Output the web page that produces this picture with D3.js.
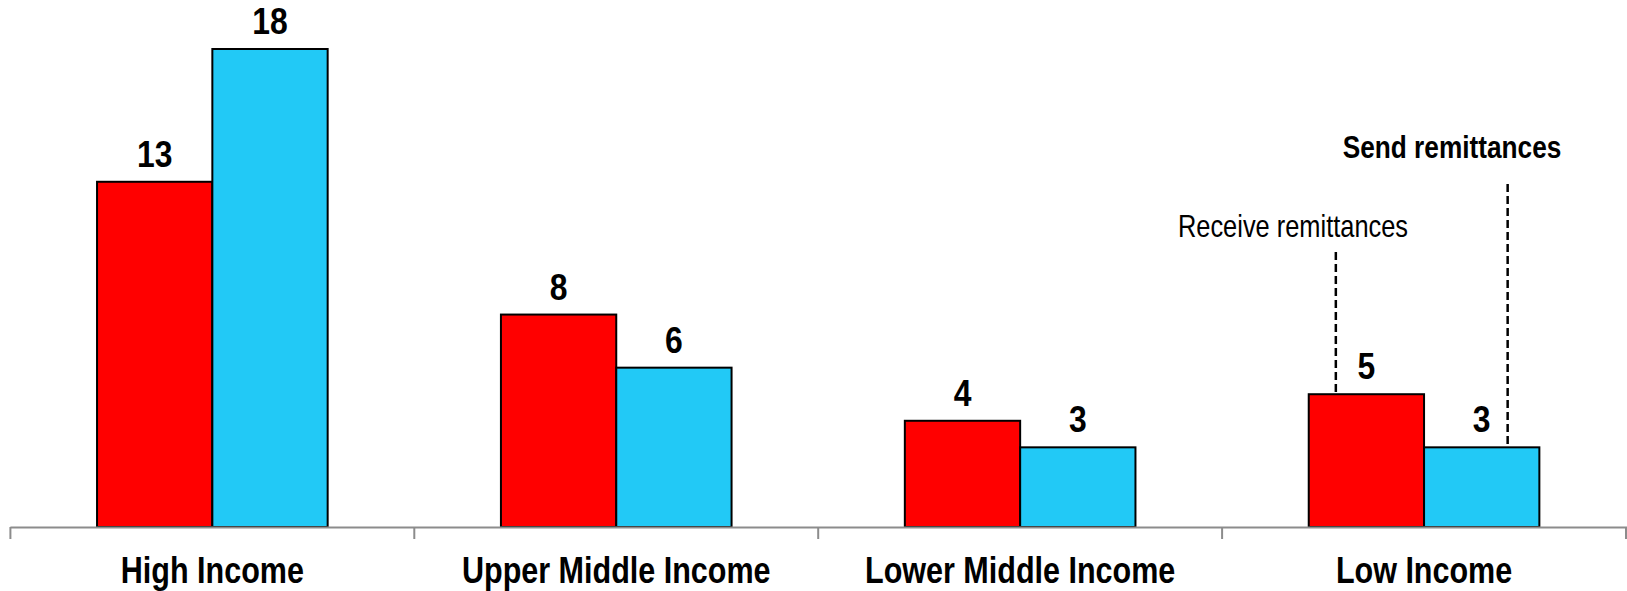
<!DOCTYPE html>
<html>
<head>
<meta charset="utf-8">
<script src="https://cdn.jsdelivr.net/npm/d3@7"></script>
<style>
  html, body { margin: 0; padding: 0; background: #fff; }
  svg { display: block; }
  text { font-family: "Liberation Sans", Arial, Helvetica, sans-serif; fill: #000; }
</style>
</head>
<body>
<svg id="chart" width="1627" height="591"></svg>
<script>
// Income groups and the two series (per cent)
const categories = ["High Income", "Upper Middle Income", "Lower Middle Income", "Low Income"];
const seriesNames = ["Receive remittances", "Send remittances"];
const receiveValues = [13, 8, 4, 5];
const sendValues = [18, 6, 3, 3];
const seriesColors = ["#FF0000", "#22C9F6"];

const W = 1627, H = 591;
const svg = d3.select("#chart");

const x = d3.scaleBand().domain(categories).range([10.4, 1626]).padding(0);
const groupFrac = 0.571;
const xInner = d3.scaleBand().domain(seriesNames)
  .range([0, x.bandwidth() * groupFrac]).padding(0);
const y = d3.scaleLinear().domain([0, 18]).range([527, 49]);

const rows = categories.map((c, i) => ({
  cat: c,
  vals: [
    { s: seriesNames[0], v: receiveValues[i] },
    { s: seriesNames[1], v: sendValues[i] }
  ]
}));

const groupX = c => x(c) + x.bandwidth() * (1 - groupFrac) / 2;

// text placed at (tx, ty) and condensed horizontally by sx (narrow face)
function label(sel, tx, ty, sx) {
  return sel.attr("transform", (d, i) =>
    `translate(${typeof tx === "function" ? tx(d, i) : tx},${typeof ty === "function" ? ty(d, i) : ty}) scale(${sx},1)`);
}

// bars
const groups = svg.selectAll("g.grp").data(rows).join("g")
  .attr("class", "grp")
  .attr("transform", d => `translate(${groupX(d.cat)},0)`);

groups.selectAll("rect").data(d => d.vals).join("rect")
  .attr("x", d => xInner(d.s))
  .attr("y", d => y(d.v))
  .attr("width", xInner.bandwidth())
  .attr("height", d => y(0) - y(d.v))
  .attr("fill", (d, i) => seriesColors[i])
  .attr("stroke", "#000")
  .attr("stroke-width", 2);

// value labels
label(groups.selectAll("text.val").data(d => d.vals).join("text")
  .attr("class", "val")
  .attr("text-anchor", "middle")
  .attr("font-weight", "bold")
  .attr("font-size", 37.5)
  .text(d => d.v),
  d => xInner(d.s) + xInner.bandwidth() / 2,
  d => y(d.v) - 15, 0.85);

// category axis
const axisG = svg.append("g");
axisG.append("line")
  .attr("x1", 10.4).attr("x2", W)
  .attr("y1", y(0) + 0.5).attr("y2", y(0) + 0.5)
  .attr("stroke", "#8c8c8c").attr("stroke-width", 2);
const boundaries = categories.map(c => x(c)).concat([x(categories[categories.length - 1]) + x.bandwidth()]);
axisG.selectAll("line.tick").data(boundaries).join("line")
  .attr("class", "tick")
  .attr("x1", d => Math.min(d, W - 1)).attr("x2", d => Math.min(d, W - 1))
  .attr("y1", y(0)).attr("y2", y(0) + 12)
  .attr("stroke", "#8c8c8c").attr("stroke-width", 2);
label(axisG.selectAll("text.cat").data(categories).join("text")
  .attr("class", "cat")
  .attr("text-anchor", "middle")
  .attr("font-weight", "bold")
  .attr("font-size", 37)
  .text(d => d),
  d => x(d) + x.bandwidth() / 2, 582.5, 0.825);

// series callouts on the last group
const last = categories[categories.length - 1];
const callouts = [
  { s: seriesNames[0], v: receiveValues[3], frac: 0.235, top: 252, tx: 1293, ty: 237, bold: false, size: 31, sx: 0.82 },
  { s: seriesNames[1], v: sendValues[3], frac: 0.725, top: 184, tx: 1452, ty: 158, bold: true, size: 32, sx: 0.82 }
];
callouts.forEach(c => {
  const lx = groupX(last) + xInner(c.s) + xInner.bandwidth() * c.frac;
  svg.append("line")
    .attr("x1", lx).attr("x2", lx)
    .attr("y1", c.top).attr("y2", y(c.v))
    .attr("stroke", "#000").attr("stroke-width", 2.5)
    .attr("stroke-dasharray", "8,4");
  label(svg.append("text")
    .attr("text-anchor", "middle")
    .attr("font-weight", c.bold ? "bold" : "normal")
    .attr("font-size", c.size)
    .text(c.s), c.tx, c.ty, c.sx);
});
</script>
</body>
</html>
